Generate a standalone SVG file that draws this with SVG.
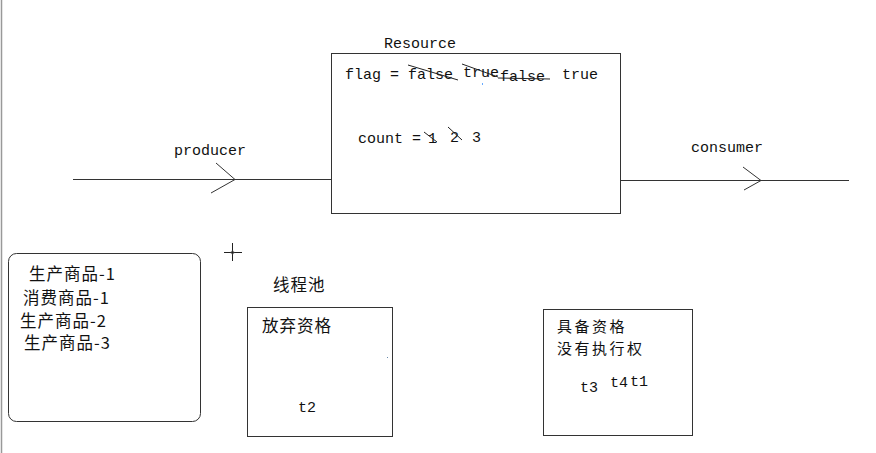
<svg xmlns="http://www.w3.org/2000/svg" width="876" height="453" viewBox="0 0 876 453">
<style>
.m{font-family:"Liberation Mono","DejaVu Sans Mono",monospace;font-size:15px;fill:#111}
.c{font-family:"Noto Sans CJK SC","Noto Sans",sans-serif;font-size:16.5px;letter-spacing:1px;fill:#111}
.c2{font-family:"Noto Sans CJK SC","Noto Sans",sans-serif;font-size:15px;letter-spacing:2.5px;fill:#111}
.box{fill:#fff;stroke:#333;stroke-width:1}
.ln{stroke:#333;stroke-width:1;fill:none}
.st{stroke:#222;stroke-width:1;fill:none}
</style>
<rect width="876" height="453" fill="#fff"/>
<line x1="1.5" y1="0" x2="1.5" y2="453" stroke="#999" stroke-width="1.5"/>
<g id="connectors">
<line class="ln" x1="73" y1="179.5" x2="331" y2="179.5"/>
<polyline class="ln" points="216,163 235,179.5 211,193"/>
<text class="m" x="174" y="155">producer</text>
<line class="ln" x1="620" y1="180.5" x2="849" y2="180.5"/>
<polyline class="ln" points="743,167 761,180.5 744,190"/>
<text class="m" x="691" y="152">consumer</text>
</g>
<g id="resource">
<text class="m" x="384" y="48">Resource</text>
<rect class="box" x="331.5" y="53.5" width="289" height="160"/>
<text class="m" x="345" y="79">flag = false</text>
<text class="m" x="463" y="77">true</text>
<text class="m" x="500" y="81">false</text>
<text class="m" x="562" y="79">true</text>
<line class="st" x1="408" y1="65" x2="458" y2="80"/>
<line class="st" x1="462" y1="64" x2="498" y2="77"/>
<line class="st" x1="498" y1="78" x2="550" y2="79"/>
<rect x="482" y="83" width="1" height="2" fill="#6af"/>
<text class="m" x="358" y="143">count = </text>
<text class="m" x="428" y="143">1</text>
<text class="m" x="450" y="142">2</text>
<text class="m" x="472" y="142">3</text>
<line class="st" x1="424" y1="132" x2="437" y2="142"/>
<line class="st" x1="448" y1="127" x2="462" y2="140"/>
</g>
<g id="log">
<rect class="box" x="8.5" y="253.5" width="192" height="168" rx="8"/>
<text class="c" x="29" y="280">生产商品-1</text>
<text class="c" x="23" y="304">消费商品-1</text>
<text class="c" x="20" y="327">生产商品-2</text>
<text class="c" x="24" y="349">生产商品-3</text>
</g>
<g id="cursor">
<line x1="224" y1="252.5" x2="242" y2="252.5" stroke="#222"/>
<line x1="232.5" y1="243" x2="232.5" y2="261" stroke="#222"/>
<circle cx="232.5" cy="252.5" r="1.5" fill="none" stroke="#555" stroke-width="0.8"/>
</g>
<g id="pool">
<text class="c" x="273" y="291">线程池</text>
<rect class="box" x="247.5" y="307.5" width="145" height="129"/>
<text class="c" x="262" y="332">放弃资格</text>
<text class="m" x="298" y="412">t2</text>
<rect x="387" y="357" width="1" height="1" fill="#68a"/>
</g>
<g id="ready">
<rect class="box" x="543.5" y="309.5" width="149" height="126"/>
<text class="c2" x="557" y="332">具备资格</text>
<text class="c2" x="557" y="354">没有执行权</text>
<text class="m" x="580" y="392">t3</text>
<text class="m" x="610" y="387">t4</text>
<text class="m" x="630" y="386">t1</text>
</g>
</svg>
